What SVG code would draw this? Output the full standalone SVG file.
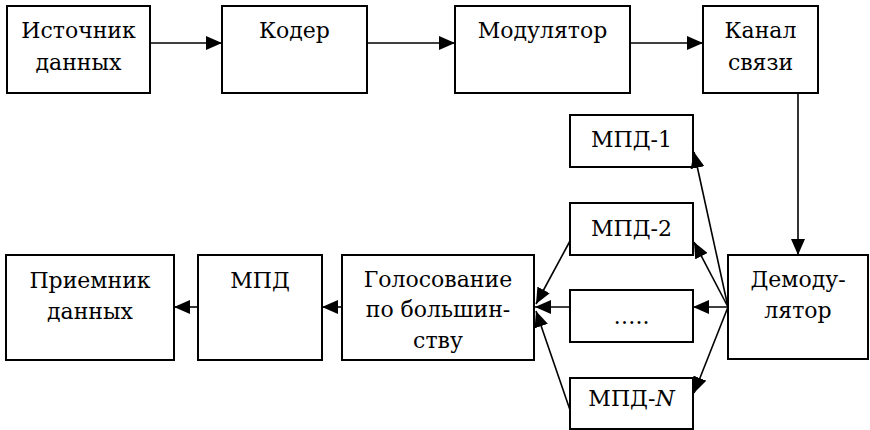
<svg xmlns="http://www.w3.org/2000/svg" width="870" height="430" viewBox="0 0 870 430">
<style>
.box{fill:#fff;stroke:#000;stroke-width:2}
.c{stroke:#000;stroke-width:1.6;fill:none;marker-end:url(#ah)}
.t{font-family:"DejaVu Serif","Liberation Serif",serif;font-size:22px;text-anchor:middle;fill:#000}
</style>
<defs>
<marker id="ah" markerUnits="userSpaceOnUse" markerWidth="18" markerHeight="14" refX="16" refY="7" orient="auto" viewBox="0 0 18 14">
<path d="M0,0 L16,7 L0,14 z" fill="#000"/>
</marker>
</defs>
<rect width="870" height="430" fill="#fff"/>
<g id="n-source"><rect class="box" x="7" y="6" width="143" height="87"/><text class="t" x="78.5" y="38">Источник</text><text class="t" x="78.5" y="70">данных</text></g>
<g id="n-coder"><rect class="box" x="222" y="6" width="145" height="87"/><text class="t" x="294.5" y="38">Кодер</text></g>
<g id="n-mod"><rect class="box" x="455" y="6" width="175" height="87"/><text class="t" x="542.5" y="38">Модулятор</text></g>
<g id="n-channel"><rect class="box" x="703" y="6" width="115" height="87"/><text class="t" x="760.5" y="38">Канал</text><text class="t" x="760.5" y="70">связи</text></g>
<g id="n-mpd1"><rect class="box" x="570" y="115" width="123" height="52"/><text class="t" x="631.5" y="147">МПД-1</text></g>
<g id="n-mpd2"><rect class="box" x="570" y="203" width="123" height="52"/><text class="t" x="631.5" y="236">МПД-2</text></g>
<g id="n-dots"><rect class="box" x="570" y="290" width="123" height="52"/><text class="t" x="631.5" y="324">…..</text></g>
<g id="n-mpdn"><rect class="box" x="570" y="378" width="123" height="51"/><text class="t" x="631.5" y="406">МПД-<tspan font-style="italic">N</tspan></text></g>
<g id="n-demod"><rect class="box" x="728" y="255" width="140" height="104"/><text class="t" x="798" y="287">Демоду-</text><text class="t" x="798" y="318">лятор</text></g>
<g id="n-vote"><rect class="box" x="342" y="255" width="192" height="105"/><text class="t" x="438" y="287">Голосование</text><text class="t" x="438" y="317">по большин-</text><text class="t" x="438" y="348">ству</text></g>
<g id="n-mpd"><rect class="box" x="198" y="255" width="124" height="105"/><text class="t" x="260" y="288">МПД</text></g>
<g id="n-receiver"><rect class="box" x="6" y="255" width="168" height="105"/><text class="t" x="90" y="288">Приемник</text><text class="t" x="90" y="319">данных</text></g>
<g id="connectors">
<line class="c" x1="150" y1="43" x2="222" y2="43"/>
<line class="c" x1="367" y1="43" x2="455" y2="43"/>
<line class="c" x1="630" y1="43" x2="703" y2="43"/>
<line class="c" x1="798" y1="93" x2="798" y2="255"/>
<line class="c" x1="728" y1="307" x2="694" y2="152"/>
<line class="c" x1="728" y1="307" x2="694" y2="242"/>
<line class="c" x1="728" y1="307" x2="693" y2="307"/>
<line class="c" x1="728" y1="307" x2="694" y2="393"/>
<line class="c" x1="570" y1="241" x2="536" y2="304"/>
<line class="c" x1="570" y1="307" x2="535" y2="307"/>
<line class="c" x1="570" y1="410" x2="536" y2="311"/>
<line class="c" x1="342" y1="307" x2="322" y2="307"/>
<line class="c" x1="198" y1="307" x2="174" y2="307"/>
</g>
</svg>
